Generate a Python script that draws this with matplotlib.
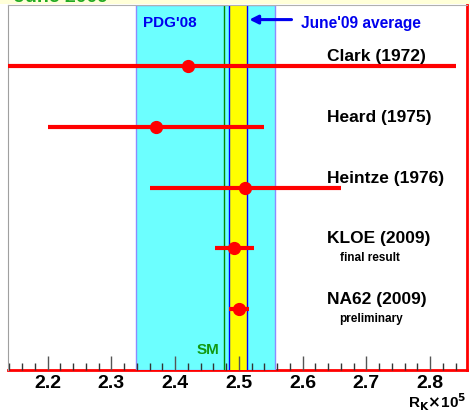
import matplotlib.pyplot as plt
from matplotlib.patches import Rectangle
from matplotlib.ticker import MultipleLocator

plt.rcParams['font.family'] = ['Liberation Sans', 'DejaVu Sans']
plt.rcParams['font.weight'] = 'bold'

# measurements of R_K x 10^5
experiments = ['Clark (1972)', 'Heard (1975)', 'Heintze (1976)', 'KLOE (2009)', 'NA62 (2009)']
notes = ['', '', '', 'final result', 'preliminary']
values = [2.42, 2.37, 2.51, 2.493, 2.500]
errors = [0.42, 0.17, 0.15, 0.031, 0.016]
rows = [5, 4, 3, 2, 1]

pdg08 = (2.338, 2.556)
june09 = (2.484, 2.512)
sm_value = 2.476

xticks = [2.2, 2.3, 2.4, 2.5, 2.6, 2.7, 2.8]

fig = plt.figure(figsize=(4.7, 4.14), dpi=100)
ax = fig.add_axes([8 / 470, 1 - 371 / 414, 459 / 470, 365 / 414])

# top strip of the slide, title mostly off the page
fig.patches.append(Rectangle((0, 1 - 5 / 414), 1, 5 / 414, transform=fig.transFigure,
                             facecolor='#ffffd8', edgecolor='none', zorder=0))
fig.text(0.03, 1 - 2 / 414, 'June 2009', color='#22aa22', fontsize=14, fontweight='bold',
         va='baseline', ha='left')

ax.axvspan(pdg08[0], pdg08[1], facecolor='#6cffff', edgecolor='#8c8cff', linewidth=1, zorder=1)
ax.axvspan(june09[0], june09[1], facecolor='#ffff00', edgecolor='none', zorder=1.2)
ax.axvline(june09[0], color='#0000ff', linewidth=1, zorder=1.3)
ax.axvline(june09[1], color='#0000ff', linewidth=1, zorder=1.3)
ax.axvline(sm_value, color='#008800', linewidth=1, zorder=1.3)

for y, v, e in zip(rows, values, errors):
    ax.plot([v - e, v + e], [y, y], color='#ff0000', linewidth=3, solid_capstyle='butt', zorder=3)
    ax.plot(v, y, 'o', color='#ff0000', markersize=8.5, zorder=4)

for y, name, note in zip(rows, experiments, notes):
    ax.text(2.638, y + 0.17, name, fontsize=12.5, fontweight='bold', va='center', ha='left', zorder=5)
    if note:
        ax.text(2.658, y - 0.15, note, fontsize=8.5, fontweight='bold', va='center', ha='left', zorder=5)

ax.text(2.350, 5.72, "PDG'08", color='#0000ee', fontsize=11, fontweight='bold', va='center', ha='left')
ax.text(2.597, 5.72, "June'09 average", color='#0000ee', fontsize=11.2, fontweight='bold',
        va='center', ha='left')
ax.annotate('', xy=(june09[1], 5.76), xytext=(2.587, 5.76),
            arrowprops=dict(arrowstyle='-|>,head_length=0.5,head_width=0.25', color='#0000ee', lw=2.2),
            zorder=5)
ax.text(2.470, 0.34, 'SM', color='#119911', fontsize=11, fontweight='bold', va='center', ha='right')

ax.set_xlim(2.1377, 2.858)
ax.set_ylim(0, 6)
ax.set_yticks([])
ax.set_xticks(xticks)
ax.set_xticklabels([f'{t:.1f}' for t in xticks], fontsize=14, fontweight='bold')
ax.xaxis.set_minor_locator(MultipleLocator(0.02))
ax.tick_params(axis='x', which='major', direction='in', length=10, width=1, color='#555555', pad=3)
ax.tick_params(axis='x', which='minor', direction='in', length=5, width=1, color='#333333')

ax.spines['left'].set_color('#a0a0a0')
ax.spines['top'].set_color('#b0b0b0')
ax.spines['bottom'].set_color('#ff0000')
ax.spines['bottom'].set_linewidth(2)
ax.spines['bottom'].set_zorder(0.5)
ax.spines['right'].set_color('#ff0000')
ax.spines['right'].set_linewidth(2)

fig.text(466 / 470, 1 - 413 / 414, r'R$_{\mathbf{K}}$$\times$10$^{\mathbf{5}}$', fontsize=11,
         fontweight='bold', ha='right', va='bottom')

fig.savefig('out.png', dpi=100)
